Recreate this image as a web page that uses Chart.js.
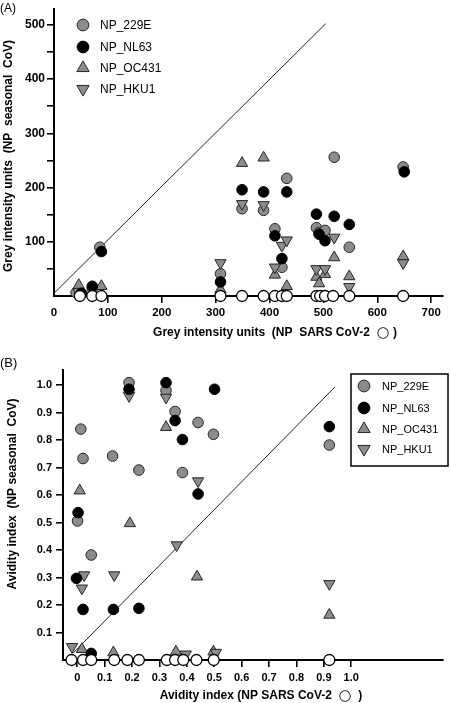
<!DOCTYPE html>
<html>
<head>
<meta charset="utf-8">
<script src="https://cdn.jsdelivr.net/npm/chart.js@4.4.0/dist/chart.umd.min.js"></script>
<style>
body{margin:0;background:#fff;}
#wrap{position:relative;width:450px;height:703px;}
#chartA{position:absolute;left:0;top:0;}
#chartB{position:absolute;left:0;top:345px;}
</style>
</head>
<body>
<div id="wrap">
<canvas id="chartA" width="450" height="345"></canvas>
<canvas id="chartB" width="450" height="358"></canvas>
</div>
<script>
var seriesNames = ['NP_229E', 'NP_NL63', 'NP_OC431', 'NP_HKU1'];

/* panel A : grey intensity units */
var a229E_x  = [41, 71, 85, 309, 349, 389, 410, 423, 432, 487, 492, 503, 520, 548, 648];
var a229E_y  = [6, 14, 90, 41, 161, 158, 124, 53, 217, 126, 117, 121, 256, 90, 238];
var aNL63_x  = [51, 71, 88, 309, 349, 389, 410, 423, 432, 487, 492, 503, 520, 548, 650];
var aNL63_y  = [5, 18, 82, 26, 196, 192, 111, 69, 192, 151, 114, 102, 147, 132, 229];
var aOC431_x = [46, 88, 309, 349, 389, 410, 432, 487, 492, 503, 520, 548, 648];
var aOC431_y = [20, 18, 12, 245, 255, 39, 18, 35, 23, 40, 71, 36, 73];
var aHKU1_x  = [45, 309, 349, 389, 410, 423, 432, 487, 503, 520, 548, 648];
var aHKU1_y  = [8, 61, 170, 168, 53, 93, 103, 50, 50, 108, 17, 61];
var aSARS_x  = [48, 71, 88, 309, 349, 389, 410, 423, 432, 487, 494, 503, 518, 548, 648];
var aDiag_x  = [0, 504];
var aDiag_y  = [5, 502];
var xTicksA  = [0, 100, 200, 300, 400, 500, 600, 700];
var yTicksA  = [50, 100, 150, 200, 250, 300, 350, 400, 450, 500];

/* panel B : avidity index */
var b229E_x  = [0.001, 0.013, 0.021, 0.051, 0.129, 0.189, 0.225, 0.324, 0.357, 0.384, 0.441, 0.497, 0.92];
var b229E_y  = [0.506, 0.84, 0.733, 0.382, 0.742, 1.009, 0.691, 0.98, 0.904, 0.682, 0.864, 0.821, 0.782];
var bNL63_x  = [0.003, -0.003, 0.021, 0.051, 0.132, 0.189, 0.225, 0.324, 0.357, 0.384, 0.441, 0.501, 0.92];
var bNL63_y  = [0.536, 0.297, 0.184, 0.024, 0.184, 0.985, 0.188, 1.009, 0.871, 0.802, 0.604, 0.985, 0.849];
var bOC431_x = [0.009, 0.017, 0.132, 0.192, 0.324, 0.36, 0.437, 0.497, 0.92];
var bOC431_y = [0.616, 0.039, 0.027, 0.497, 0.847, 0.03, 0.303, 0.03, 0.164];
var bHKU1_x  = [-0.019, 0.025, 0.017, 0.135, 0.189, 0.324, 0.363, 0.396, 0.441, 0.506, 0.92];
var bHKU1_y  = [0.048, 0.309, 0.261, 0.309, 0.961, 0.955, 0.418, 0.021, 0.651, 0.027, 0.277];
var bSARS_x  = [-0.021, 0.021, 0.051, 0.135, 0.183, 0.225, 0.327, 0.357, 0.387, 0.435, 0.498, 0.92];
var bDiag_x  = [-0.015, 0.94];
var bDiag_y  = [0.025, 0.993];
var xTicksB  = [0, 0.1, 0.2, 0.3, 0.4, 0.5, 0.6, 0.7, 0.8, 0.9, 1.0];
var xLabelsB = ['0', '0.1', '0.2', '0.3', '0.4', '0.5', '0.6', '0.7', '0.8', '0.9', '1.0'];
var yTicksB  = [0.1, 0.2, 0.3, 0.4, 0.5, 0.6, 0.7, 0.8, 0.9, 1.0];
var yLabelsB = ['0.1', '0.2', '0.3', '0.4', '0.5', '0.6', '0.7', '0.8', '0.9', '1.0'];

var FONT = '"Liberation Sans", Arial, sans-serif';
Chart.defaults.font.family = FONT;
Chart.defaults.color = '#000';

var GREY = '#8c8c8c';
var EDGE = '#262626';
var markers = [
	{style: 'circle',   rot: 0,   r: 5.3, fill: GREY,   edge: EDGE},
	{style: 'circle',   rot: 0,   r: 5.3, fill: '#000', edge: '#000'},
	{style: 'triangle', rot: 0,   r: 6.5, fill: GREY,   edge: EDGE},
	{style: 'triangle', rot: 180, r: 6.5, fill: GREY,   edge: EDGE}
];

function pts(xs, ys) {
	return xs.map(function(x, i) { return {x: x, y: ys[i]}; });
}
function zeros(xs) {
	return xs.map(function(x) { return {x: x, y: 0}; });
}

function makeSets(seriesData, sarsX, diagX, diagY) {
	var order = [4, 1, 3, 2];
	var sets = seriesData.map(function(d, i) {
		var m = markers[i];
		return {
			label: seriesNames[i],
			data: d,
			pointStyle: m.style,
			rotation: m.rot,
			pointRadius: m.r,
			backgroundColor: m.fill,
			borderColor: m.edge,
			borderWidth: 1,
			order: order[i],
			clip: false
		};
	});
	sets.push({
		label: 'SARS CoV-2',
		data: zeros(sarsX),
		pointStyle: 'circle',
		pointRadius: 5.5,
		backgroundColor: '#fff',
		borderColor: '#000',
		borderWidth: 1.3,
		order: 0,
		clip: false
	});
	sets.push({
		label: 'diag',
		data: pts(diagX, diagY),
		showLine: true,
		pointRadius: 0,
		borderColor: '#222',
		borderWidth: 1,
		order: 5
	});
	return sets;
}

function axisGrid(hideZero) {
	return {
		display: true,
		drawOnChartArea: false,
		drawTicks: true,
		tickLength: 7,
		lineWidth: 1.6,
		tickColor: function(c) {
			if (hideZero && c.tick && c.tick.value === 0) return 'rgba(0,0,0,0)';
			return '#000';
		}
	};
}

// x title is written in pieces so the open circle can be larger
function drawPieces(ctx, pieces, cx, cy) {
	var total = 0;
	pieces.forEach(function(p) { ctx.font = p.f; p.w = ctx.measureText(p.t).width; total += p.w; });
	var x = cx - total / 2;
	ctx.textAlign = 'left';
	pieces.forEach(function(p) { ctx.font = p.f; ctx.fillText(p.t, x, cy); x += p.w; });
}

/* texts and legend drawn on top of each panel */
function decor(cfg) {
	return {
		id: 'decor',
		afterDraw: function(chart) {
			var ctx = chart.ctx;
			ctx.save();
			ctx.fillStyle = '#000';
			ctx.textBaseline = 'middle';

			ctx.font = cfg.panelFont + ' ' + FONT;
			ctx.textAlign = 'left';
			ctx.fillText(cfg.panel, 0, cfg.panelY);

			var bold = 'bold 12px ' + FONT;
			drawPieces(ctx, [
				{t: cfg.xTitle[0], f: bold},
				{t: '\u25CB', f: '15px "DejaVu Sans", sans-serif'},
				{t: cfg.xTitle[1], f: bold}
			], cfg.xTitleX, cfg.xTitleY);

			ctx.font = bold;
			ctx.textAlign = 'center';
			ctx.save();
			ctx.translate(cfg.yTitleX, cfg.yTitleY);
			ctx.rotate(-Math.PI / 2);
			ctx.fillText(cfg.yTitle, 0, 0);
			ctx.restore();

			if (cfg.box) {
				ctx.strokeStyle = '#000';
				ctx.lineWidth = 1.5;
				ctx.strokeRect(cfg.box[0], cfg.box[1], cfg.box[2], cfg.box[3]);
			}
			ctx.font = cfg.legendFont + ' ' + FONT;
			ctx.textAlign = 'left';
			seriesNames.forEach(function(name, i) {
				var m = markers[i];
				var y = cfg.legendY[i];
				ctx.fillStyle = m.fill;
				ctx.strokeStyle = m.edge;
				ctx.lineWidth = 1;
				Chart.helpers.drawPoint(ctx, {pointStyle: m.style, rotation: m.rot, radius: m.r + 0.6, borderWidth: 1}, cfg.markX, y);
				ctx.fillStyle = '#000';
				ctx.fillText(name, cfg.textX, y + 0.5);
			});
			ctx.restore();
		}
	};
}

var chartA = new Chart(document.getElementById('chartA'), {
	type: 'scatter',
	data: {
		datasets: makeSets([
			pts(a229E_x, a229E_y), pts(aNL63_x, aNL63_y),
			pts(aOC431_x, aOC431_y), pts(aHKU1_x, aHKU1_y)
		], aSARS_x, aDiag_x, aDiag_y)
	},
	options: {
		responsive: false,
		animation: false,
		layout: {padding: {left: 0, right: 5, top: 5, bottom: 0}},
		plugins: {legend: {display: false}, tooltip: {enabled: false}},
		scales: {
			x: {
				type: 'linear', min: 0, max: 721,
				afterBuildTicks: function(s) { s.ticks = xTicksA.map(function(v) { return {value: v}; }); },
				afterFit: function(s) { s.height = 49; },
				ticks: {font: {size: 11.5, weight: 'bold'}, padding: 3, maxRotation: 0,
					callback: function(v) { return String(v); }},
				grid: axisGrid(true),
				border: {display: true, color: '#000', width: 2}
			},
			y: {
				type: 'linear', min: 0, max: 529,
				afterBuildTicks: function(s) { s.ticks = yTicksA.map(function(v) { return {value: v}; }); },
				afterFit: function(s) { s.width = 54; },
				ticks: {font: {size: 12, weight: 'bold'}, padding: 2,
					callback: function(v) { return v % 100 === 0 ? String(v) : ''; }},
				grid: axisGrid(false),
				border: {display: true, color: '#000', width: 2}
			}
		}
	},
	plugins: [decor({
		panel: '(A)', panelFont: '12px', panelY: 9,
		xTitle: ['Grey intensity units  (NP  SARS CoV-2  ', ' )'], xTitleX: 275, xTitleY: 333,
		yTitle: 'Grey intensity units  (NP  seasonal  CoV)', yTitleX: 9, yTitleY: 156,
		legendFont: '12px', markX: 83, textX: 100, legendY: [25, 47, 68, 89]
	})]
});

var chartB = new Chart(document.getElementById('chartB'), {
	type: 'scatter',
	data: {
		datasets: makeSets([
			pts(b229E_x, b229E_y), pts(bNL63_x, bNL63_y),
			pts(bOC431_x, bOC431_y), pts(bHKU1_x, bHKU1_y)
		], bSARS_x, bDiag_x, bDiag_y)
	},
	options: {
		responsive: false,
		animation: false,
		layout: {padding: {left: 0, right: 2, top: 25, bottom: 0}},
		plugins: {legend: {display: false}, tooltip: {enabled: false}},
		scales: {
			x: {
				type: 'linear', min: -0.052, max: 1.333,
				afterBuildTicks: function(s) { s.ticks = xTicksB.map(function(v) { return {value: v}; }); },
				afterFit: function(s) { s.height = 43; },
				ticks: {font: {size: 11, weight: 'bold'}, padding: 4, maxRotation: 0,
					callback: function(v, i) { return xLabelsB[i]; }},
				grid: axisGrid(false),
				border: {display: true, color: '#000', width: 2}
			},
			y: {
				type: 'linear', min: 0, max: 1.055,
				afterBuildTicks: function(s) { s.ticks = yTicksB.map(function(v) { return {value: v}; }); },
				afterFit: function(s) { s.width = 63; },
				ticks: {font: {size: 11, weight: 'bold'}, padding: 4,
					callback: function(v, i) { return yLabelsB[i]; }},
				grid: axisGrid(false),
				border: {display: true, color: '#000', width: 2}
			}
		}
	},
	plugins: [decor({
		panel: '(B)', panelFont: '13px', panelY: 18,
		xTitle: ['Avidity index (NP SARS CoV-2  ', '  )'], xTitleX: 261, xTitleY: 351,
		yTitle: 'Avidity index  (NP seasonal  CoV)', yTitleX: 13, yTitleY: 149,
		box: [351, 29, 97, 92],
		legendFont: '11px', markX: 364, textX: 382, legendY: [41, 63, 84, 104]
	})]
});
</script>
</body>
</html>
